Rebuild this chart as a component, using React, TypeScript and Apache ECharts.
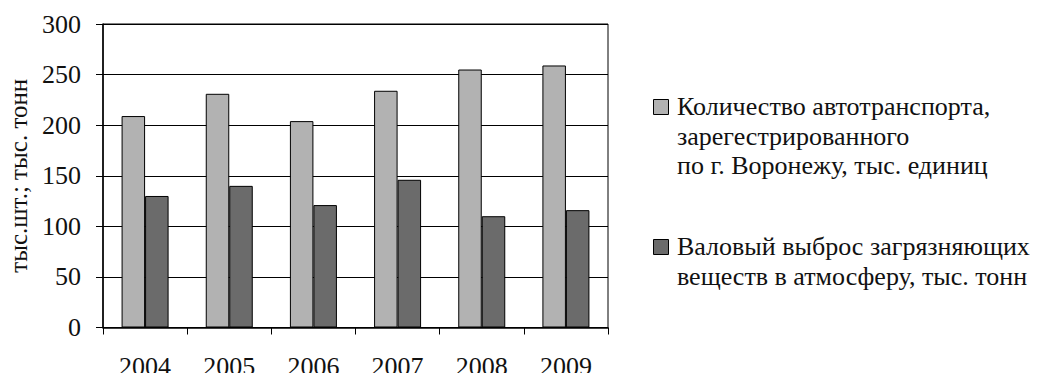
import React, { useEffect, useRef } from "react";
import * as echarts from "echarts";

// Годы наблюдений
const years = ["2004", "2005", "2006", "2007", "2008", "2009"];

// Количество автотранспорта, тыс. единиц
const vehicles = [209, 231, 204, 234, 255, 259];

// Валовый выброс загрязняющих веществ, тыс. тонн
const emissions = [130, 140, 121, 146, 110, 116];

const seriesNames = [
  "Количество автотранспорта,\nзарегестрированного\nпо г. Воронежу, тыс. единиц",
  "Валовый выброс загрязняющих\nвеществ в атмосферу, тыс. тонн",
];
const seriesColors = ["#b2b2b2", "#6b6b6b"];

const yAxisName = "тыс.шт.; тыс. тонн";
const yTicks = { min: 0, max: 300, interval: 50 };

const FONT = "Times New Roman";

export default function App() {
  const ref = useRef<HTMLDivElement>(null);

  useEffect(() => {
    if (!ref.current) return;
    const chart = echarts.init(ref.current, null, { renderer: "svg" });

    // Легенда: квадратный маркер и многострочная подпись для каждого ряда
    const legendTops = [92, 232];
    const legendGraphics: any[] = [];
    seriesNames.forEach((name, i) => {
      legendGraphics.push({
        type: "rect",
        left: 653,
        top: legendTops[i] + 7,
        shape: { width: 15, height: 15 },
        style: { fill: seriesColors[i], stroke: "#000", lineWidth: 1 },
      });
      legendGraphics.push({
        type: "text",
        left: 677,
        top: legendTops[i],
        style: {
          text: name,
          fill: "#111",
          fontSize: 26,
          fontFamily: FONT,
          lineHeight: 29.5,
        },
      });
    });

    chart.setOption({
      animation: false,
      backgroundColor: "#fff",
      textStyle: { fontFamily: FONT },
      grid: {
        left: 103,
        right: 431,
        top: 24,
        bottom: 45.5,
        outerBoundsMode: "none",
        show: true,
        borderColor: "#000",
        borderWidth: 1,
      },
      xAxis: {
        type: "category",
        data: years,
        boundaryGap: true,
        axisLine: { lineStyle: { color: "#000", width: 1.5 } },
        axisTick: { show: true, length: 7, inside: false, lineStyle: { color: "#000", width: 1 } },
        axisLabel: { color: "#111", fontSize: 26, fontFamily: FONT, margin: 26 },
      },
      yAxis: {
        type: "value",
        min: yTicks.min,
        max: yTicks.max,
        interval: yTicks.interval,
        name: yAxisName,
        nameLocation: "middle",
        nameRotate: 90,
        nameGap: 72,
        nameTextStyle: { color: "#111", fontSize: 25, fontFamily: FONT },
        axisLine: { show: true, lineStyle: { color: "#000", width: 1.5 } },
        axisTick: { show: true, length: 7, lineStyle: { color: "#000", width: 1 } },
        axisLabel: { color: "#111", fontSize: 26, fontFamily: FONT, margin: 22 },
        splitLine: { show: true, lineStyle: { color: "#000", width: 1 } },
      },
      series: [
        {
          name: seriesNames[0],
          type: "bar",
          data: vehicles,
          barWidth: 23.5,
          barGap: "0%",
          itemStyle: { color: seriesColors[0], borderColor: "#000", borderWidth: 1 },
        },
        {
          name: seriesNames[1],
          type: "bar",
          data: emissions,
          barWidth: 23.5,
          barGap: "0%",
          itemStyle: { color: seriesColors[1], borderColor: "#000", borderWidth: 1 },
        },
      ],
      graphic: legendGraphics,
    });

    return () => chart.dispose();
  }, []);

  return (
    <div
      ref={ref}
      style={{ position: "absolute", left: 0, top: 0, width: 1039, height: 373 }}
    />
  );
}
